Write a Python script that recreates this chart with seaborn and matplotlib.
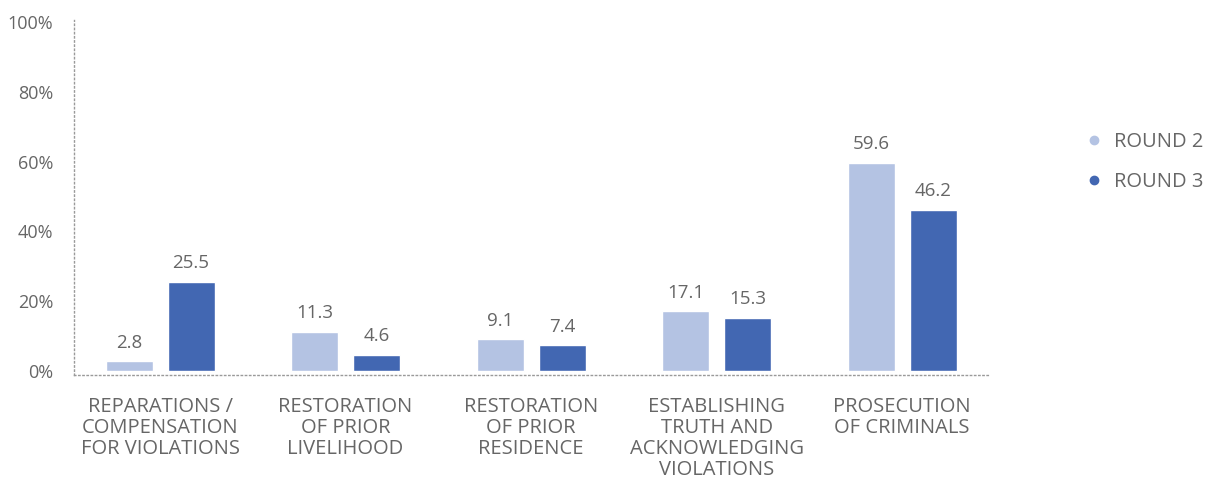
import pandas as pd
import seaborn as sns
import matplotlib.pyplot as plt
from matplotlib.lines import Line2D

# ==========================================
# DATA
# ==========================================
categories = [
    "REPARATIONS /\nCOMPENSATION\nFOR VIOLATIONS",
    "RESTORATION\nOF PRIOR\nLIVELIHOOD",
    "RESTORATION\nOF PRIOR\nRESIDENCE",
    "ESTABLISHING\nTRUTH AND\nACKNOWLEDGING\nVIOLATIONS",
    "PROSECUTION\nOF CRIMINALS",
]
round2 = [2.8, 11.3, 9.1, 17.1, 59.6]
round3 = [25.5, 4.6, 7.4, 15.3, 46.2]
series_names = ["ROUND 2", "ROUND 3"]
y_ticks = [0, 20, 40, 60, 80, 100]

COLORS = ["#B4C3E3", "#4267B2"]
TEXT = "#666666"
DOTS = "#9a9a9a"

df = pd.DataFrame({
    "category": categories * 2,
    "value": round2 + round3,
    "series": [series_names[0]] * len(categories) + [series_names[1]] * len(categories),
})

# ==========================================
# PLOT
# ==========================================
sns.set_theme(style="white")
plt.rcParams["font.family"] = ["Open Sans", "DejaVu Sans"]

fig = plt.figure(figsize=(12.13, 4.82), dpi=100)
ax = fig.add_axes([74 / 1213, 107 / 482, (990 - 74) / 1213, (462 - 107) / 482])

sns.barplot(data=df, x="category", y="value", hue="series", palette=COLORS,
            saturation=1, width=0.668, gap=0.24, order=categories,
            hue_order=series_names, legend=False, ax=ax)

# value labels above bars
for container in ax.containers:
    ax.bar_label(container, fmt="%.1f", padding=7, fontsize=13.5, color=TEXT)

ax.set_ylim(-1.1, 100.5)
ax.set_xlim(-0.464, 4.474)
ax.set_yticks(y_ticks)
ax.set_yticklabels([f"{t}%" for t in y_ticks], fontsize=13, color=TEXT)
ax.tick_params(axis="y", length=0, pad=15)
ax.tick_params(axis="x", length=0, labelbottom=False)
ax.set_xlabel("")
ax.set_ylabel("")

# category labels drawn under each group (tick labels kept ignoring the size)
for i, cat in enumerate(categories):
    ax.annotate(cat, xy=(i, 0), xycoords=("data", "axes fraction"),
                xytext=(0, -16), textcoords="offset points",
                ha="center", va="top", fontsize=14.5, color=TEXT,
                linespacing=1.07)

for side in ["top", "right"]:
    ax.spines[side].set_visible(False)
for side in ["left", "bottom"]:
    ax.spines[side].set_color(DOTS)
    ax.spines[side].set_linestyle((0, (1, 2)))
    ax.spines[side].set_linewidth(1)
ax.spines["bottom"].set_position(("data", -1.1))

handles = [Line2D([0], [0], marker="o", linestyle="", markersize=6,
                  markerfacecolor=c, markeredgecolor=c) for c in COLORS]
fig.legend(handles, series_names, loc="center left",
           bbox_to_anchor=(1066 / 1213, 1 - 162 / 482), frameon=False,
           fontsize=14.5, labelcolor=TEXT, handletextpad=0.5,
           labelspacing=0.95, handlelength=1)

plt.savefig("out.png", dpi=100)
plt.close()
